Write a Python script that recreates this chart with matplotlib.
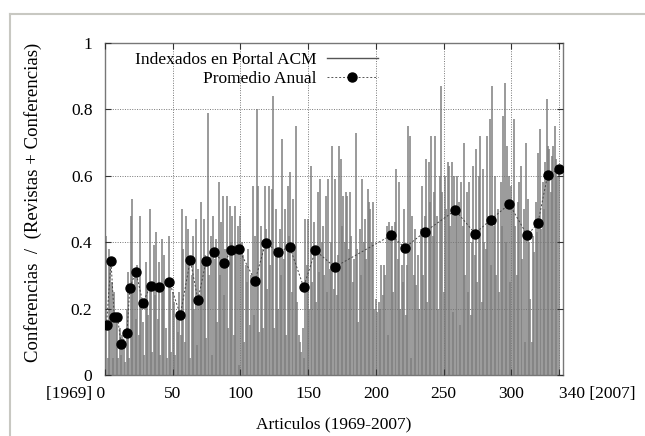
import numpy as np
import matplotlib
matplotlib.use("Agg")
import matplotlib.pyplot as plt
from matplotlib.lines import Line2D

plt.rcParams['font.family'] = ['Liberation Serif', 'DejaVu Serif']

# ratio per article (1..335) in chunks of 20
ratio = (
    [0.42, 0.05, 0.38, 0.35, 0.28, 0.05, 0.25, 0.17, 0.16, 0.05, 0.14, 0.06, 0.12, 0.09, 0.04, 0.20, 0.31, 0.05, 0.48, 0.53]
    + [0.25, 0.31, 0.17, 0.33, 0.12, 0.48, 0.22, 0.16, 0.06, 0.34, 0.27, 0.18, 0.50, 0.26, 0.07, 0.39, 0.24, 0.43, 0.17, 0.34]
    + [0.06, 0.41, 0.26, 0.36, 0.14, 0.05, 0.42, 0.28, 0.07, 0.25, 0.22, 0.06, 0.19, 0.13, 0.25, 0.12, 0.50, 0.38, 0.10, 0.48]
    + [0.44, 0.35, 0.05, 0.30, 0.42, 0.20, 0.47, 0.09, 0.32, 0.24, 0.52, 0.33, 0.47, 0.36, 0.11, 0.79, 0.30, 0.42, 0.06, 0.48]
    + [0.35, 0.41, 0.16, 0.58, 0.30, 0.46, 0.54, 0.24, 0.38, 0.54, 0.14, 0.51, 0.40, 0.48, 0.12, 0.51, 0.39, 0.45, 0.03, 0.48]
    + [0.40, 0.36, 0.10, 0.33, 0.28, 0.38, 0.15, 0.30, 0.57, 0.18, 0.42, 0.80, 0.57, 0.13, 0.45, 0.38, 0.14, 0.57, 0.44, 0.26]
    + [0.57, 0.33, 0.56, 0.84, 0.14, 0.50, 0.37, 0.20, 0.44, 0.30, 0.71, 0.35, 0.50, 0.12, 0.57, 0.42, 0.61, 0.25, 0.53, 0.38]
    + [0.75, 0.22, 0.12, 0.10, 0.07, 0.14, 0.05, 0.47, 0.33, 0.47, 0.20, 0.63, 0.28, 0.46, 0.38, 0.22, 0.55, 0.31, 0.59, 0.40]
    + [0.45, 0.30, 0.54, 0.25, 0.59, 0.32, 0.40, 0.69, 0.26, 0.59, 0.24, 0.36, 0.69, 0.65, 0.45, 0.54, 0.40, 0.55, 0.54, 0.38]
    + [0.55, 0.42, 0.28, 0.35, 0.73, 0.38, 0.16, 0.44, 0.30, 0.59, 0.40, 0.47, 0.35, 0.56, 0.52, 0.50, 0.40, 0.52, 0.20, 0.23]
    + [0.19, 0.22, 0.20, 0.33, 0.24, 0.33, 0.30, 0.45, 0.12, 0.46, 0.42, 0.45, 0.25, 0.46, 0.62, 0.35, 0.58, 0.20, 0.33, 0.28]
    + [0.50, 0.18, 0.33, 0.75, 0.72, 0.05, 0.48, 0.30, 0.44, 0.27, 0.36, 0.20, 0.44, 0.57, 0.30, 0.48, 0.65, 0.22, 0.64, 0.52]
    + [0.72, 0.42, 0.55, 0.72, 0.48, 0.20, 0.60, 0.87, 0.55, 0.25, 0.60, 0.50, 0.64, 0.63, 0.45, 0.64, 0.19, 0.60, 0.50, 0.60]
    + [0.52, 0.15, 0.58, 0.45, 0.70, 0.30, 0.55, 0.25, 0.58, 0.18, 0.40, 0.63, 0.36, 0.68, 0.28, 0.60, 0.72, 0.22, 0.62, 0.40]
    + [0.38, 0.72, 0.48, 0.77, 0.33, 0.87, 0.45, 0.60, 0.30, 0.50, 0.25, 0.58, 0.45, 0.78, 0.88, 0.40, 0.69, 0.60, 0.28, 0.57]
    + [0.50, 0.77, 0.45, 0.30, 0.52, 0.58, 0.63, 0.35, 0.50, 0.10, 0.70, 0.53, 0.40, 0.23, 0.10, 0.42, 0.37, 0.52, 0.43, 0.67]
    + [0.74, 0.44, 0.58, 0.50, 0.64, 0.83, 0.69, 0.68, 0.55, 0.66, 0.69, 0.75, 0.65, 0.60, 0.62]
)
articles = np.arange(1, len(ratio) + 1)

# annual average: position (article index) and value
year_pos = [1.2, 4.5, 6.9, 9.3, 12.0, 16.3, 18.4, 22.9, 28.0, 33.7, 39.8, 47.6, 55.7,
            63.0, 68.7, 74.7, 80.7, 87.7, 93.4, 98.8, 110.8, 118.7, 127.7, 136.4,
            146.7, 155.4, 169.6, 211.4, 221.4, 236.1, 258.7, 273.2, 284.9, 298.5,
            311.7, 319.6, 326.8, 335.5]
year_avg = [0.150, 0.343, 0.176, 0.176, 0.092, 0.125, 0.263, 0.311, 0.218, 0.268,
            0.266, 0.281, 0.181, 0.346, 0.226, 0.343, 0.371, 0.336, 0.376, 0.379,
            0.284, 0.399, 0.370, 0.386, 0.265, 0.375, 0.325, 0.421, 0.383, 0.431,
            0.496, 0.426, 0.468, 0.515, 0.421, 0.457, 0.602, 0.621]

xticks = [0, 50, 100, 150, 200, 250, 300, 335]
xtick_labels = ['[1969] 0', '50', '100', '150', '200', '250', '300', '340 [2007]']
yticks = [0, 0.2, 0.4, 0.6, 0.8, 1]
ytick_labels = ['0', '0.2', '0.4', '0.6', '0.8', '1']

fig = plt.figure(figsize=(6.45, 4.36), dpi=100)
ax = fig.add_axes([0.1626, 0.140, 0.710, 0.7614])

bar_col = '#7e7e7e'
ax.vlines(articles, 0, ratio, colors=bar_col, lw=1.1, zorder=2)
ax.plot(year_pos, year_avg, color='#444444', lw=0.7, ls=(0, (2, 2)), zorder=3)
ax.plot(year_pos, year_avg, 'o', color='black', ms=6.5, zorder=4)

ax.set_xlim(0, 338)
ax.set_ylim(0, 1)
ax.set_xticks(xticks)
ax.set_xticklabels(xtick_labels)
lbls = ax.get_xticklabels()
lbls[0].set_ha('right')
lbls[-1].set_ha('left')
ax.set_yticks(yticks)
ax.set_yticklabels(ytick_labels)

ax.tick_params(direction='in', top=True, right=True, length=4, width=0.8,
               color='#333333', labelsize=12.5, pad=8)
ax.tick_params(axis='y', pad=9)
ax.grid(True, color='#777777', ls=(0, (1, 1.5)), lw=0.7)
ax.set_axisbelow(False)
for s in ax.spines.values():
    s.set_color('#777777')
    s.set_linewidth(1.0)

ax.set_xlabel('Articulos (1969-2007)', fontsize=12.5, labelpad=10)
ax.set_ylabel('Conferencias  /  (Revistas + Conferencias)', fontsize=13.5)
ax.yaxis.set_label_coords(-0.138, 0.52)

handles = [Line2D([], [], color='#555555', lw=1.0),
           Line2D([], [], color='#555555', lw=0.7, ls=(0, (2, 2)),
                  marker='o', mfc='black', mec='black', ms=6.5)]
ax.legend(handles, ['Indexados en Portal ACM', 'Promedio Anual'],
          loc='upper right', bbox_to_anchor=(0.622, 1.01), frameon=False,
          markerfirst=False, handlelength=2.9, handletextpad=0.6,
          labelspacing=0.15, fontsize=12.5, borderaxespad=0.3)

# outer screenshot frame
fig.add_artist(Line2D([10 / 645, 10 / 645], [0, 1 - 14 / 436], transform=fig.transFigure,
                      color='#c8c8c2', lw=1.5))
fig.add_artist(Line2D([10 / 645, 1], [1 - 14 / 436, 1 - 14 / 436], transform=fig.transFigure,
                      color='#c8c8c2', lw=1.5))

fig.savefig('out.png', dpi=100)
